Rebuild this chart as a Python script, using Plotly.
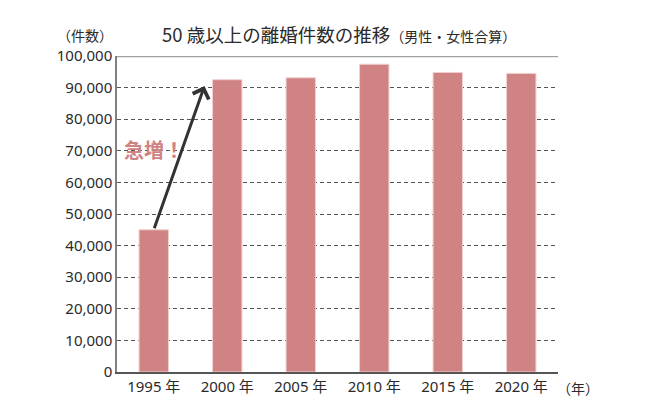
import plotly.graph_objects as go

years = ["1995 年", "2000 年", "2005 年", "2010 年", "2015 年", "2020 年"]
divorces = [45000, 92500, 93100, 97400, 94800, 94500]
y_ticks = list(range(0, 100001, 10000))
y_tick_labels = [f"{v:,}" for v in y_ticks]

CJK = "Noto Sans CJK JP, Noto Sans, sans-serif"
NUM = "Noto Sans, Noto Sans CJK JP, sans-serif"
BAR = "#D08383"
TXT = "#2a2a2a"

fig = go.Figure()
fig.add_trace(go.Bar(
    x=list(range(len(years))), y=divorces, width=0.4,
    marker=dict(color=BAR, line=dict(color="#F2CFCF", width=1)),
    hoverinfo="skip",
))

# page body has an 8px margin, so the figure is 8px smaller than the window;
# plot area: x 117..558, y 56..372 in window pixels
fig.update_layout(
    width=637, height=412,
    margin=dict(l=109, r=87, t=48, b=48),
    paper_bgcolor="white", plot_bgcolor="white",
    showlegend=False,
    font=dict(family=NUM, size=15, color=TXT),
)
fig.update_xaxes(
    tickmode="array", tickvals=list(range(len(years))), ticktext=years,
    range=[-0.5, len(years) - 0.5],
    showline=True, linecolor="#555555", linewidth=2,
    showgrid=False, ticks="", tickfont=dict(size=15, color=TXT, family=NUM),
    fixedrange=True,
)
fig.update_yaxes(
    range=[0, 100000], tickmode="array", tickvals=y_ticks, ticktext=y_tick_labels,
    showline=True, linecolor="#808080", linewidth=1.5,
    showgrid=True, gridcolor="#555555", griddash="4px,3px", gridwidth=1,
    zeroline=False, ticks="", tickfont=dict(size=15, color=TXT, family=NUM),
    fixedrange=True,
)

# top border line
fig.add_shape(type="line", xref="paper", yref="y", x0=0, x1=1, y0=100000, y1=100000,
              line=dict(color="#A0A0A0", width=2.5))

# arrow from 1995 bar top to 2000 bar
fig.add_annotation(
    x=0.69, y=divorces[1] - 2000, xref="x", yref="y",
    ax=0, ay=divorces[0], axref="x", ayref="y",
    showarrow=True, arrowhead=4, arrowsize=1.1, arrowwidth=3, arrowcolor="#333333",
    text="",
)
fig.add_annotation(
    x=0.0, y=70500, xref="x", yref="y", text="<b>急増！</b>", showarrow=False,
    font=dict(size=20, color=BAR, family=CJK),
)
# title
fig.add_annotation(
    x=0.0975, y=1.0, xref="paper", yref="paper", xanchor="left", yanchor="middle",
    yshift=22,
    text='50 歳以上の離婚件数の推移<span style="font-size:14px">（男性・女性合算）</span>',
    showarrow=False, font=dict(size=18.5, color=TXT, family=CJK),
)
fig.add_annotation(
    x=-0.14, y=1.0, xref="paper", yref="paper", xanchor="left", yanchor="middle",
    yshift=21, text="（件数）", showarrow=False,
    font=dict(size=14, color=TXT, family=CJK),
)
fig.add_annotation(
    x=1.0, y=0, xref="paper", yref="paper", xanchor="left", yanchor="middle",
    xshift=-3, yshift=-16, text="（年）", showarrow=False,
    font=dict(size=14, color=TXT, family=CJK),
)

fig.write_html("out.html")
